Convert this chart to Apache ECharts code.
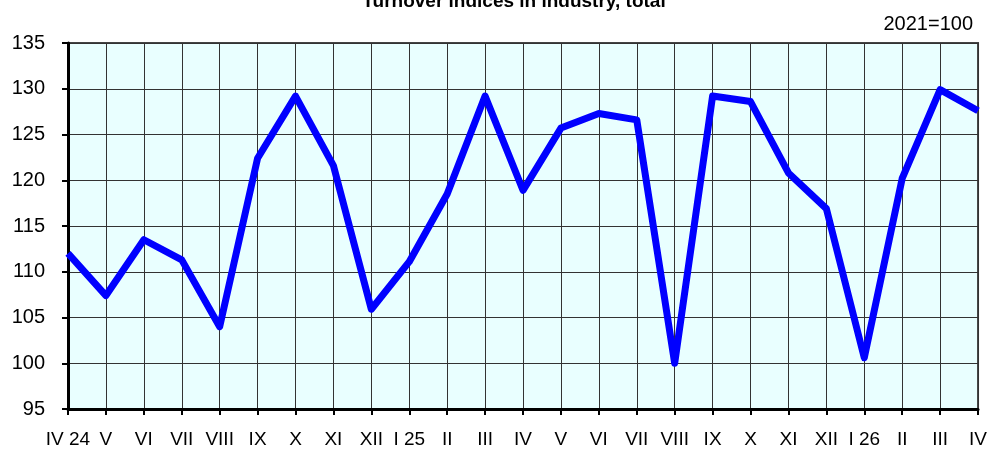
<!DOCTYPE html>
<html>
<head>
<meta charset="utf-8">
<script src="https://cdn.jsdelivr.net/npm/echarts@6/dist/echarts.min.js"></script>
<style>
  html, body { margin: 0; padding: 0; background: #fff; }
  #chart { width: 990px; height: 450px; }
</style>
</head>
<body>
<div id="chart"></div>
<script>
// months, Apr 2024 .. Apr 2026
var months = ['IV 24', 'V', 'VI', 'VII', 'VIII', 'IX', 'X', 'XI', 'XII', 'I 25', 'II', 'III',
  'IV', 'V', 'VI', 'VII', 'VIII', 'IX', 'X', 'XI', 'XII', 'I 26', 'II', 'III', 'IV']
// turnover index, 2021=100
var turnover = [112.0, 107.4, 113.5, 111.3, 104.0, 122.4, 129.2, 121.6, 105.9, 111.1, 118.5, 129.2,
  118.9, 125.7, 127.3, 126.6, 100.0, 129.2, 128.6, 120.8, 116.9, 100.6, 120.2, 129.9, 127.6]
var yMin = 95
var yMax = 135
var yStep = 5

var font = 'Liberation Sans'
var chart = echarts.init(document.getElementById('chart'))

var option = {
  animation: false,
  graphic: [
    {
      type: 'text',
      x: 514,
      y: 11,
      style: {
        text: 'Turnover indices in industry, total',
        font: 'bold 19px "Liberation Sans"',
        fill: '#000',
        textAlign: 'center',
        textVerticalAlign: 'bottom'
      }
    },
    {
      type: 'text',
      x: 973,
      y: 24,
      style: {
        text: '2021=100',
        font: '20px "Liberation Sans"',
        fill: '#000',
        textAlign: 'right',
        textVerticalAlign: 'middle'
      }
    }
  ],
  grid: {
    left: 68,
    right: 10,
    top: 43,
    bottom: 41,
    show: true,
    backgroundColor: '#E9FFFF',
    borderColor: '#444',
    borderWidth: 2
  },
  xAxis: {
    type: 'category',
    data: months,
    boundaryGap: false,
    axisLine: { lineStyle: { color: '#000', width: 3 } },
    axisTick: { length: 6, lineStyle: { color: '#000', width: 2 } },
    axisLabel: {
      interval: 0,
      margin: 21,
      color: '#000',
      fontFamily: font,
      fontSize: 19
    },
    splitLine: { show: true, lineStyle: { color: '#333', width: 1 } }
  },
  yAxis: {
    type: 'value',
    min: yMin,
    max: yMax,
    interval: yStep,
    axisLine: { show: true, lineStyle: { color: '#000', width: 3 } },
    axisTick: { show: true, length: 6, lineStyle: { color: '#000', width: 2 } },
    axisLabel: {
      margin: 23,
      color: '#000',
      fontFamily: font,
      fontSize: 20
    },
    splitLine: { show: true, lineStyle: { color: '#333', width: 1 } }
  },
  series: [
    {
      type: 'line',
      data: turnover,
      symbol: 'none',
      lineStyle: { color: '#0000FF', width: 7, join: 'round' }
    }
  ]
}

chart.setOption(option)
</script>
</body>
</html>
